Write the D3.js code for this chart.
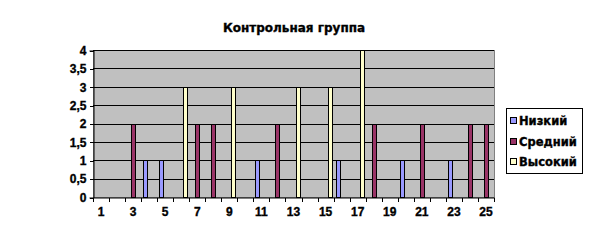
<!DOCTYPE html>
<html>
<head>
<meta charset="utf-8">
<script src="https://cdn.jsdelivr.net/npm/d3@7"></script>
<style>
  body { margin: 0; background: #fff; }
  text { font-family: "Liberation Sans", Arial, sans-serif; font-weight: bold; stroke: #000; stroke-width: 0.35px; }
  line, rect { shape-rendering: crispEdges; }
</style>
</head>
<body>
<svg id="chart" width="591" height="245"></svg>
<script>
// data
const categories = d3.range(1, 26).map(String);
const seriesNames = ['Низкий', 'Средний', 'Высокий'];
const seriesColors = ['#9999FF', '#993366', '#FFFFCC'];
const low  = [0,0,0,1,1,0,0,0,0,0,1,0,0,0,0,1,0,0,0,1,0,0,1,0,0];
const mid  = [0,0,2,0,0,0,2,2,0,0,0,2,0,0,0,0,0,2,0,0,2,0,0,2,2];
const high = [0,0,0,0,0,3,0,0,3,0,0,0,3,0,3,0,4,0,0,0,0,0,0,0,0];
const yTicks = [0, 0.5, 1, 1.5, 2, 2.5, 3, 3.5, 4];
const title = 'Контрольная группа';

const seriesData = [low, mid, high];

var svg = d3.select('#chart');
var pLeft = 93, pRight = 494, pTop = 50, pBottom = 197;

var x = d3.scaleBand().domain(categories).range([pLeft, pRight]).padding(0);
var xSub = d3.scaleBand().domain(seriesNames).range([-6, 6]);
var y = d3.scaleLinear().domain([0, 4]).range([pBottom, pTop]);

// plot area
svg.append('rect')
  .attr('x', pLeft + 0.5).attr('y', pTop + 0.5)
  .attr('width', pRight - pLeft).attr('height', pBottom - pTop)
  .attr('fill', '#C0C0C0')
  .attr('stroke', '#808080');

// gridlines
svg.append('g').selectAll('line')
  .data(yTicks.filter(d => d > 0))
  .enter().append('line')
    .attr('x1', pLeft).attr('x2', pRight)
    .attr('y1', d => Math.round(y(d)) + 0.5).attr('y2', d => Math.round(y(d)) + 0.5)
    .attr('stroke', '#000');

// bars
seriesNames.forEach(function(name, si) {
  svg.append('g').selectAll('rect')
    .data(seriesData[si].map((v, i) => ({cat: categories[i], v: v})).filter(d => d.v > 0))
    .enter().append('rect')
      .attr('x', d => Math.round(x(d.cat) + x.bandwidth() / 2 + xSub(name)) + 0.5)
      .attr('y', d => Math.round(y(d.v)) + 0.5)
      .attr('width', xSub.bandwidth())
      .attr('height', d => Math.round(y(0)) - Math.round(y(d.v)))
      .attr('fill', seriesColors[si])
      .attr('stroke', '#000');
});

// y axis
var yAxis = d3.axisLeft(y).tickValues(yTicks).tickSize(4).tickPadding(3)
  .tickFormat(d => String(d).replace('.', ','));
var gy = svg.append('g').attr('transform', 'translate(' + (pLeft + 0.5) + ',0.5)').call(yAxis);
gy.select('.domain').attr('stroke', '#000');
gy.selectAll('text').attr('font-size', 12).attr('fill', '#000')
  .style('font-family', '"Liberation Sans", Arial, sans-serif').style('font-weight', 'bold');

// x axis
var xAxis = d3.axisBottom(x).tickSize(0).tickPadding(10)
  .tickFormat(d => (+d % 2 === 1 ? d : ''));
var gx = svg.append('g').attr('transform', 'translate(0,' + (pBottom + 0.5) + ')').call(xAxis);
gx.select('.domain').attr('stroke', '#000');
gx.selectAll('text').attr('font-size', 12).attr('fill', '#000')
  .style('font-family', '"Liberation Sans", Arial, sans-serif').style('font-weight', 'bold');
// tick marks between categories
gx.selectAll('.sep')
  .data(categories.concat(['end']))
  .enter().append('line')
    .attr('x1', (d, i) => Math.round(pLeft + i * x.bandwidth()) + 0.5)
    .attr('x2', (d, i) => Math.round(pLeft + i * x.bandwidth()) + 0.5)
    .attr('y1', 0).attr('y2', 4)
    .attr('stroke', '#000');

// title
svg.append('text')
  .attr('x', 294).attr('y', 32)
  .attr('text-anchor', 'middle')
  .attr('font-size', 12)
  .style('font-family', '"DejaVu Sans", sans-serif')
  .text(title);

// legend
var lg = svg.append('g');
lg.append('rect')
  .attr('x', 506.5).attr('y', 108.5).attr('width', 76).attr('height', 65)
  .attr('fill', '#fff').attr('stroke', '#000');
seriesNames.forEach(function(name, i) {
  var cy = 121 + i * 20.5;
  lg.append('rect')
    .attr('x', 510.5).attr('y', cy - 3.5).attr('width', 6).attr('height', 6)
    .attr('fill', seriesColors[i]).attr('stroke', '#000');
  lg.append('text')
    .attr('x', 519).attr('y', cy + 4)
    .attr('font-size', 11.5)
    .style('font-family', '"DejaVu Sans", sans-serif')
    .text(name);
});
</script>
</body>
</html>
